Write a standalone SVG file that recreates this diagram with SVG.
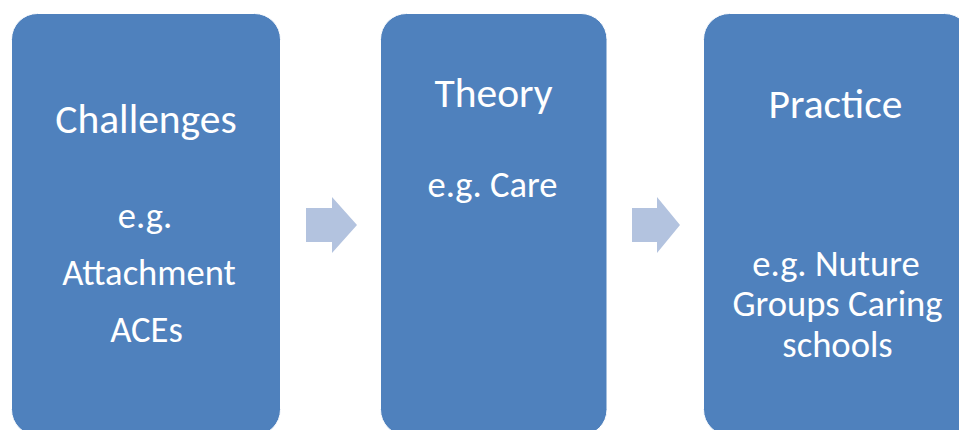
<svg xmlns="http://www.w3.org/2000/svg" width="959" height="430" viewBox="0 0 959 430">
<style>
.box{fill:#4F81BD;stroke:#FFFFFF;stroke-width:1}
.arrow{fill:#B3C3DF}
text{fill:#FFFFFF;font-family:Carlito,Calibri,Lato,"Liberation Sans",sans-serif;text-anchor:middle}
.t{font-size:41.5px}
.b{font-size:36.6px}
</style>
<rect width="959" height="430" fill="#FFFFFF"/>
<g id="challenges">
<rect class="box" x="11.5" y="13.5" width="269" height="422" rx="26"/>
<text class="t" x="146" y="133">Challenges</text>
<text class="b" x="145" y="228">e.g.</text>
<text class="b" x="149" y="285">Attachment</text>
<text class="b" x="146.5" y="341.5">ACEs</text>
</g>
<g id="theory">
<rect class="box" x="380.5" y="13.5" width="226.5" height="422" rx="26"/>
<text class="t" x="493.5" y="106.5">Theory</text>
<text class="b" x="492.5" y="196.5">e.g. Care</text>
</g>
<g id="practice">
<rect class="box" x="703.5" y="13.5" width="267" height="422" rx="26"/>
<text class="t" x="835.5" y="118">Practice</text>
<text class="b" x="836" y="276">e.g. Nuture</text>
<text class="b" x="837.5" y="316">Groups Caring</text>
<text class="b" x="837.5" y="356.5">schools</text>
</g>
<g id="connectors">
<polygon class="arrow" points="306,208 332,208 332,197 357,225 332,253 332,242 306,242"/>
<polygon class="arrow" points="632,208 657,208 657,197 680,225 657,253 657,242 632,242"/>
</g>
</svg>
